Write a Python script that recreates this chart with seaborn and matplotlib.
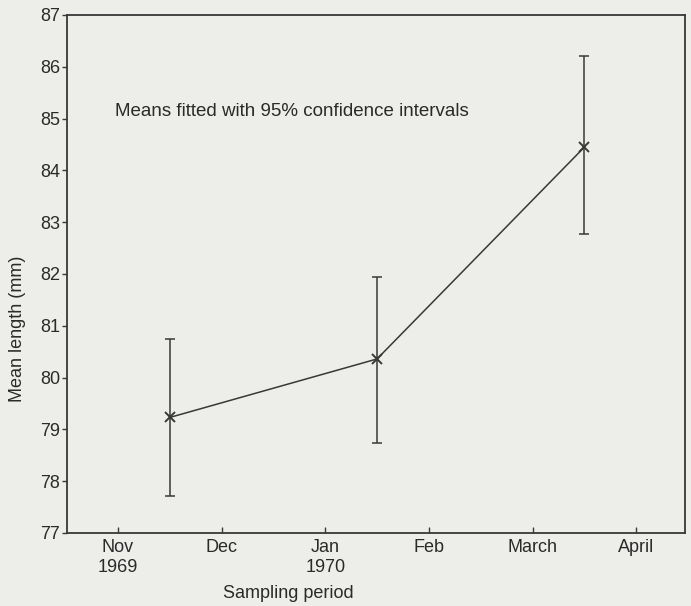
import matplotlib
matplotlib.use("Agg")
import matplotlib.pyplot as plt
import seaborn as sns
import pandas as pd

# Data (months since start of Nov 1969)
sample_pos = [0.5, 2.5, 4.5]
mean_length = [79.23, 80.36, 84.45]
ci_low = [77.72, 78.73, 82.78]
ci_high = [80.74, 81.94, 86.20]

month_pos = [0, 1, 2, 3, 4, 5]
month_labels = ["Nov\n1969", "Dec", "Jan\n1970", "Feb", "March", "April"]
y_ticks = list(range(77, 88))

sns.set_theme(style="ticks")
plt.rcParams['font.family'] = ['Liberation Sans', 'DejaVu Sans']

bg = "#ededea"
ink = "#383838"
txt = "#2a2a2a"

fig = plt.figure(figsize=(6.91, 6.06), dpi=100, facecolor=bg)
ax = fig.add_axes([67/691, 1-533/606, (685-67)/691, (533-15)/606])
ax.set_facecolor(bg)

df = pd.DataFrame({"x": sample_pos, "y": mean_length})
sns.lineplot(data=df, x="x", y="y", ax=ax, color=ink, lw=1.1,
             marker="x", markersize=7, markeredgewidth=1.4, markeredgecolor=ink)

yerr = [[m - l for m, l in zip(mean_length, ci_low)],
        [h - m for m, h in zip(mean_length, ci_high)]]
ax.errorbar(sample_pos, mean_length, yerr=yerr, fmt="none", ecolor=ink,
            elinewidth=1.1, capsize=3.8, capthick=1.1)

ax.set_xlim(-0.49, 5.47)
ax.set_ylim(77, 87)
ax.set_xticks(month_pos)
ax.set_xticklabels(month_labels, linespacing=1.25)
ax.set_yticks(y_ticks)
ax.tick_params(axis="x", direction="in", length=4, width=1, color=ink,
               labelsize=13, labelcolor=txt, pad=4)
ax.tick_params(axis="y", direction="out", length=3.5, width=1, color=ink,
               labelsize=13, labelcolor=txt, pad=1.5)
for s in ax.spines.values():
    s.set_color(ink)
    s.set_linewidth(1.3)
    s.set_visible(True)

ax.set_xlabel("")
ax.set_ylabel("")
fig.text(288/691, 1-594/606, "Sampling period", ha="center", va="center",
         fontsize=13, color=txt)
fig.text(18/691, 1-329/606, "Mean length (mm)", ha="center", va="center",
         rotation=90, fontsize=13, color=txt)
ax.text(115/691, 1-112/606, "Means fitted with 95% confidence intervals",
        transform=fig.transFigure, ha="left", va="center", fontsize=13.5,
        color=txt)

fig.savefig("out.png", dpi=100, facecolor=bg)
